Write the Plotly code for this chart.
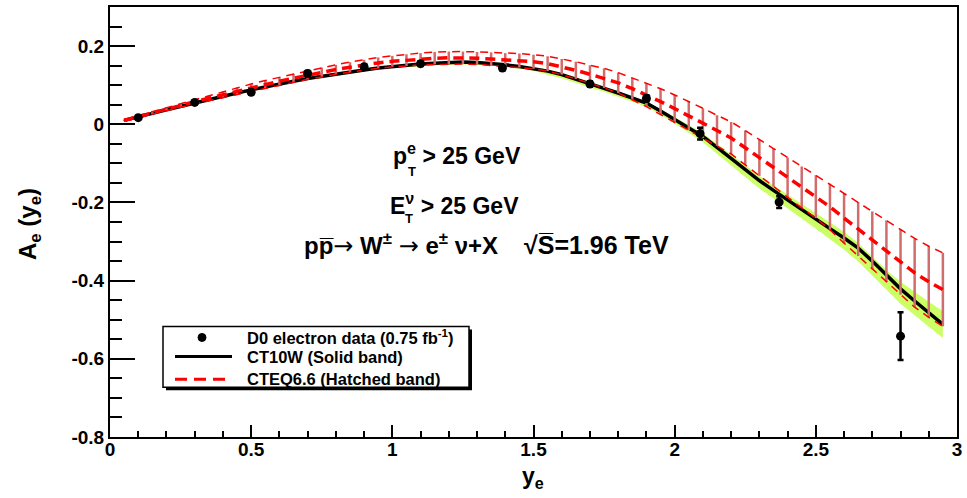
import numpy as np
import plotly.graph_objects as go

# ---------------- data ----------------
# D0 electron charge asymmetry (0.75 fb^-1)
data_y_e = [0.10, 0.30, 0.50, 0.70, 0.90, 1.10, 1.39, 1.70, 1.90, 2.09, 2.37, 2.80]
data_A = [0.017, 0.056, 0.082, 0.130, 0.147, 0.155, 0.144, 0.103, 0.066, -0.024, -0.199, -0.542]
data_err = [0.005, 0.005, 0.006, 0.006, 0.006, 0.006, 0.006, 0.007, 0.008, 0.015, 0.015, 0.061]

# rapidity grid for the theory predictions
theory_y_e = [0.05, 0.10, 0.15, 0.20, 0.25, 0.30, 0.35, 0.40, 0.45, 0.50,
              0.55, 0.60, 0.65, 0.70, 0.75, 0.80, 0.85, 0.90, 0.95, 1.00,
              1.05, 1.10, 1.15, 1.20, 1.25, 1.30, 1.35, 1.40, 1.45, 1.50,
              1.55, 1.60, 1.65, 1.70, 1.75, 1.80, 1.85, 1.90, 1.95, 2.00,
              2.05, 2.10, 2.15, 2.20, 2.25, 2.30, 2.35, 2.40, 2.45, 2.50,
              2.55, 2.60, 2.65, 2.70, 2.75, 2.80, 2.85, 2.90, 2.95]

# CT10W central prediction and its asymmetric PDF uncertainty
ct10w_A = [0.010, 0.018, 0.028, 0.037, 0.046, 0.055, 0.064, 0.072, 0.080, 0.088,
           0.096, 0.103, 0.110, 0.117, 0.123, 0.129, 0.134, 0.139, 0.144, 0.148,
           0.151, 0.154, 0.156, 0.158, 0.159, 0.158, 0.156, 0.152, 0.148, 0.143,
           0.136, 0.127, 0.116, 0.103, 0.092, 0.080, 0.067, 0.054, 0.034, 0.013,
           -0.009, -0.031, -0.059, -0.088, -0.116, -0.144, -0.169, -0.194, -0.218, -0.243,
           -0.267, -0.291, -0.317, -0.350, -0.386, -0.421, -0.452, -0.482, -0.512]
ct10w_err_up = [0.002, 0.002, 0.002, 0.002, 0.002, 0.002, 0.002, 0.002, 0.002, 0.002,
                0.003, 0.003, 0.003, 0.003, 0.003, 0.003, 0.003, 0.003, 0.003, 0.003,
                0.003, 0.003, 0.003, 0.003, 0.003, 0.003, 0.003, 0.003, 0.003, 0.003,
                0.004, 0.004, 0.004, 0.004, 0.004, 0.004, 0.004, 0.004, 0.004, 0.006,
                0.007, 0.008, 0.009, 0.010, 0.011, 0.012, 0.013, 0.014, 0.015, 0.016,
                0.017, 0.016, 0.013, 0.012, 0.013, 0.018, 0.023, 0.028, 0.034]
ct10w_err_dn = [0.003, 0.003, 0.003, 0.003, 0.003, 0.003, 0.003, 0.003, 0.003, 0.003,
                0.004, 0.004, 0.004, 0.004, 0.004, 0.004, 0.004, 0.004, 0.004, 0.004,
                0.006, 0.006, 0.006, 0.006, 0.006, 0.006, 0.006, 0.006, 0.006, 0.006,
                0.009, 0.009, 0.009, 0.009, 0.009, 0.009, 0.009, 0.009, 0.009, 0.012,
                0.013, 0.015, 0.016, 0.018, 0.019, 0.020, 0.021, 0.022, 0.023, 0.024,
                0.026, 0.030, 0.034, 0.036, 0.037, 0.038, 0.037, 0.036, 0.035]

# CTEQ6.6 central prediction and its symmetric PDF uncertainty
cteq66_A = [0.010, 0.019, 0.029, 0.039, 0.048, 0.058, 0.067, 0.076, 0.085, 0.093,
            0.102, 0.110, 0.118, 0.126, 0.133, 0.140, 0.146, 0.152, 0.157, 0.161,
            0.164, 0.167, 0.169, 0.170, 0.170, 0.169, 0.167, 0.165, 0.163, 0.160,
            0.155, 0.147, 0.138, 0.128, 0.118, 0.106, 0.091, 0.075, 0.058, 0.040,
            0.022, 0.003, -0.016, -0.035, -0.060, -0.086, -0.111, -0.136, -0.161, -0.185,
            -0.211, -0.240, -0.268, -0.297, -0.325, -0.352, -0.380, -0.403, -0.423]
cteq66_err = [0.002, 0.003, 0.003, 0.004, 0.005, 0.006, 0.007, 0.008, 0.009, 0.010,
              0.010, 0.010, 0.011, 0.011, 0.012, 0.012, 0.013, 0.013, 0.014, 0.014,
              0.015, 0.015, 0.016, 0.016, 0.016, 0.016, 0.017, 0.017, 0.018, 0.018,
              0.019, 0.020, 0.022, 0.023, 0.025, 0.026, 0.028, 0.030, 0.033, 0.035,
              0.037, 0.038, 0.039, 0.041, 0.044, 0.046, 0.049, 0.051, 0.053, 0.055,
              0.059, 0.064, 0.069, 0.074, 0.079, 0.084, 0.088, 0.091, 0.094]

x_tick_vals = [0, 0.5, 1, 1.5, 2, 2.5, 3]
x_tick_text = ["0", "0.5", "1", "1.5", "2", "2.5", "3"]
y_tick_vals = [-0.8, -0.6, -0.4, -0.2, 0, 0.2]
y_tick_text = ["-0.8", "-0.6", "-0.4", "-0.2", "0", "0.2"]

# ---------------- styling ----------------
FONT = "Liberation Sans, Arial, Helvetica, sans-serif"
GREEN = "#ccff66"
HATCH = "rgb(208,108,108)"
RED = "#ff0000"

W, H = 967, 498
ML, MR, MT, MB = 110, 10, 5, 61


def paper_x(px):
    return (px - ML) / (W - ML - MR)


def paper_y(py):
    return (H - MB - py) / (H - MT - MB)


xg = np.array(theory_y_e)
ct_c = np.array(ct10w_A)
ct_hi = ct_c + np.array(ct10w_err_up)
ct_lo = ct_c - np.array(ct10w_err_dn)
cq_c = np.array(cteq66_A)
cq_hi = cq_c + np.array(cteq66_err)
cq_lo = cq_c - np.array(cteq66_err)

fig = go.Figure()

# CT10W uncertainty band (solid fill)
fig.add_trace(go.Scatter(
    x=np.concatenate([xg, xg[::-1]]),
    y=np.concatenate([ct_hi, ct_lo[::-1]]),
    fill="toself", fillcolor=GREEN, line=dict(width=0, color=GREEN),
    mode="lines", hoverinfo="skip", showlegend=False))

# CT10W central line
fig.add_trace(go.Scatter(x=xg, y=ct_c, mode="lines",
                         line=dict(color="black", width=3.5),
                         showlegend=False))

# CTEQ6.6 hatched band: vertical strokes between the band edges
hx, hy = [], []
for xi, lo, hi in zip(xg, cq_lo, cq_hi):
    hx += [xi, xi, None]
    hy += [lo, hi, None]
fig.add_trace(go.Scatter(x=hx, y=hy, mode="lines",
                         line=dict(color=HATCH, width=2.5),
                         hoverinfo="skip", showlegend=False))

# CTEQ6.6 band edges
for edge in (cq_hi, cq_lo):
    fig.add_trace(go.Scatter(x=xg, y=edge, mode="lines",
                             line=dict(color=RED, width=1.5, dash="8px,6px"),
                             hoverinfo="skip", showlegend=False))

# CTEQ6.6 central line
fig.add_trace(go.Scatter(x=xg, y=cq_c, mode="lines",
                         line=dict(color=RED, width=3.5, dash="10px,6px"),
                         showlegend=False))

# D0 data
fig.add_trace(go.Scatter(
    x=data_y_e, y=data_A, mode="markers",
    marker=dict(color="black", size=9),
    error_y=dict(type="data", array=data_err, color="black",
                 thickness=2.5, width=3),
    showlegend=False))

axis_common = dict(
    showline=True, linewidth=2, linecolor="black", mirror=True,
    showgrid=False, zeroline=False, ticks="inside", tickwidth=2,
    tickcolor="black", tickmode="array",
    tickfont=dict(family=FONT, size=19, color="black", weight="bold"),
)

fig.update_xaxes(
    range=[0, 3], tickvals=x_tick_vals, ticktext=x_tick_text, ticklen=12,
    ticklabelstandoff=-6,
    minor=dict(tickmode="linear", tick0=0, dtick=0.1, ticklen=6,
               tickwidth=1.5, tickcolor="black", ticks="inside"),
    **axis_common)
fig.update_yaxes(
    range=[-0.8, 0.3], tickvals=y_tick_vals, ticktext=y_tick_text, ticklen=25,
    minor=dict(tickmode="linear", tick0=0, dtick=0.05, ticklen=12,
               tickwidth=1.5, tickcolor="black", ticks="inside"),
    **axis_common)

ann = []


def text(px, py, s, size, xanchor="left", angle=0, family=FONT):
    ann.append(dict(x=paper_x(px), y=paper_y(py), xref="paper", yref="paper",
                    text=s, showarrow=False, xanchor=xanchor, yanchor="middle",
                    textangle=angle,
                    font=dict(family=family, size=size, color="black", weight="bold")))


ARROW = '<span style="font-family:DejaVu Sans;font-weight:normal">\u2192</span>'

# axis titles
text(533, 478, "y<sub>e</sub>", 23, xanchor="center")
text(30, 223, "A<sub>e</sub> (y<sub>e</sub>)", 24, xanchor="center", angle=-90)

# kinematic cuts and process
text(391, 153, "p<sup>e</sup> > 25 GeV", 23)
text(406, 170, "T", 13)
text(388, 203, "E<sup>\u03bd</sup> > 25 GeV", 23)
text(403, 217, "T", 13)
text(302, 244,
     "pp\u0305" + ARROW + " W<sup>\u00b1</sup> " + ARROW + " e<sup>\u00b1</sup> \u03bd+X", 24)
text(522, 244, "\u221aS\u0305=1.96 TeV", 25)

# legend
shapes = []
shapes.append(dict(type="rect", xref="paper", yref="paper",
                   x0=paper_x(166), x1=paper_x(472), y0=paper_y(390), y1=paper_y(329),
                   fillcolor="black", line=dict(width=0)))
shapes.append(dict(type="rect", xref="paper", yref="paper",
                   x0=paper_x(163), x1=paper_x(469), y0=paper_y(387), y1=paper_y(326),
                   fillcolor="white", line=dict(color="black", width=1.5)))
shapes.append(dict(type="circle", xref="paper", yref="paper",
                   x0=paper_x(198), x1=paper_x(206), y0=paper_y(341), y1=paper_y(333),
                   fillcolor="black", line=dict(color="black", width=1)))
shapes.append(dict(type="line", xref="paper", yref="paper",
                   x0=paper_x(175), x1=paper_x(232), y0=paper_y(356), y1=paper_y(356),
                   line=dict(color="black", width=3)))
shapes.append(dict(type="line", xref="paper", yref="paper",
                   x0=paper_x(175), x1=paper_x(232), y0=paper_y(379), y1=paper_y(379),
                   line=dict(color=RED, width=3, dash="12px,7px")))

text(245, 337, "D0 electron data (0.75 fb<sup>-1</sup>)", 16.5)
text(245, 357, "CT10W (Solid band)", 16.5)
text(245, 379, "CTEQ6.6 (Hatched band)", 16.5)

fig.update_layout(
    width=W, height=H,
    margin=dict(l=ML, r=MR, t=MT, b=MB),
    paper_bgcolor="white", plot_bgcolor="white",
    annotations=ann, shapes=shapes, showlegend=False,
)

fig.write_html("out.html")
